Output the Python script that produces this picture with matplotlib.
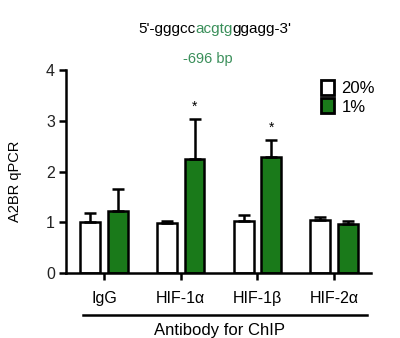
import matplotlib
matplotlib.use("Agg")
import matplotlib.pyplot as plt
import numpy as np

plt.rcParams['font.family'] = ['Liberation Sans', 'DejaVu Sans']

categories = ["IgG", "HIF-1α", "HIF-1β", "HIF-2α"]
normoxia = [1.00, 0.98, 1.03, 1.05]
normoxia_err = [0.19, 0.04, 0.12, 0.06]
hypoxia = [1.23, 2.24, 2.29, 0.97]
hypoxia_err = [0.42, 0.79, 0.33, 0.05]
significant = [False, True, True, False]
series_labels = ["20%", "1%"]

green = "#1a7a1a"
seqgreen = "#3a8f5a"

fig = plt.figure(figsize=(4.0, 3.38), dpi=100)
ax = fig.add_axes([0.165, 0.192, 0.7625, 0.601])

x = np.arange(len(categories))
w = 0.26
off = 0.18
ax.bar(x - off, normoxia, w, color="white", edgecolor="black", linewidth=1.8,
       yerr=[np.zeros(4), normoxia_err], error_kw=dict(ecolor="black", elinewidth=1.8, capsize=4, capthick=1.8),
       label=series_labels[0], zorder=2)
ax.bar(x + off, hypoxia, w, color=green, edgecolor="black", linewidth=1.8,
       yerr=[np.zeros(4), hypoxia_err], error_kw=dict(ecolor="black", elinewidth=1.8, capsize=4, capthick=1.8),
       label=series_labels[1], zorder=2)
for i, s in enumerate(significant):
    if s:
        ax.text(x[i] + off, hypoxia[i] + hypoxia_err[i] + 0.1, "*", ha="center", va="bottom", fontsize=10)

ax.set_xlim(-0.495, 3.48)
ax.set_ylim(0, 4)
ax.set_yticks([0, 1, 2, 3, 4])
ax.set_xticks(x)
ax.set_xticklabels(categories, fontsize=11.5)
ax.tick_params(axis='y', labelsize=11.5, width=1.8, length=5, pad=3, labelcolor="#222222")
ax.tick_params(axis='x', width=1.8, length=5, pad=8)
for sp in ["top", "right"]:
    ax.spines[sp].set_visible(False)
for sp in ["left", "bottom"]:
    ax.spines[sp].set_linewidth(1.8)
ax.set_ylabel("A2BR qPCR", fontsize=10.5)
ax.yaxis.set_label_coords(22/400, 1-181/338, transform=fig.transFigure)

leg = ax.legend(loc="upper right", bbox_to_anchor=(1.035, 0.985), frameon=False, fontsize=12,
                handlelength=0.8, handleheight=1.0, handletextpad=0.45, labelspacing=0.15,
                borderaxespad=0.0)
for p in leg.get_patches():
    p.set_linewidth(2.0)

# underline and x-axis label
fig.add_artist(plt.Line2D([83/400, 367/400], [1-315/338, 1-315/338], color="black", linewidth=1.8))
fig.text(219/400, 1-330/338, "Antibody for ChIP", ha="center", va="center", fontsize=12)

# sequence title with coloured segment
parts = [("5'-gggcc", "black"), ("acgtg", seqgreen), ("ggagg-3'", "black")]
fig.canvas.draw()
r = fig.canvas.get_renderer()
texts = []
widths = []
for s, c in parts:
    t = fig.text(0, 1-29/338, s, color=c, fontsize=11, va="center", ha="left")
    texts.append(t)
    widths.append(t.get_window_extent(renderer=r).width)
total = sum(widths)
xstart = 215 - total/2
cur = xstart
for t, wd in zip(texts, widths):
    t.set_x(cur/400)
    cur += wd
fig.text(208/400, 1-59/338, "-696 bp", color=seqgreen, fontsize=10.5, ha="center", va="center")

fig.savefig("out.png", dpi=100)
